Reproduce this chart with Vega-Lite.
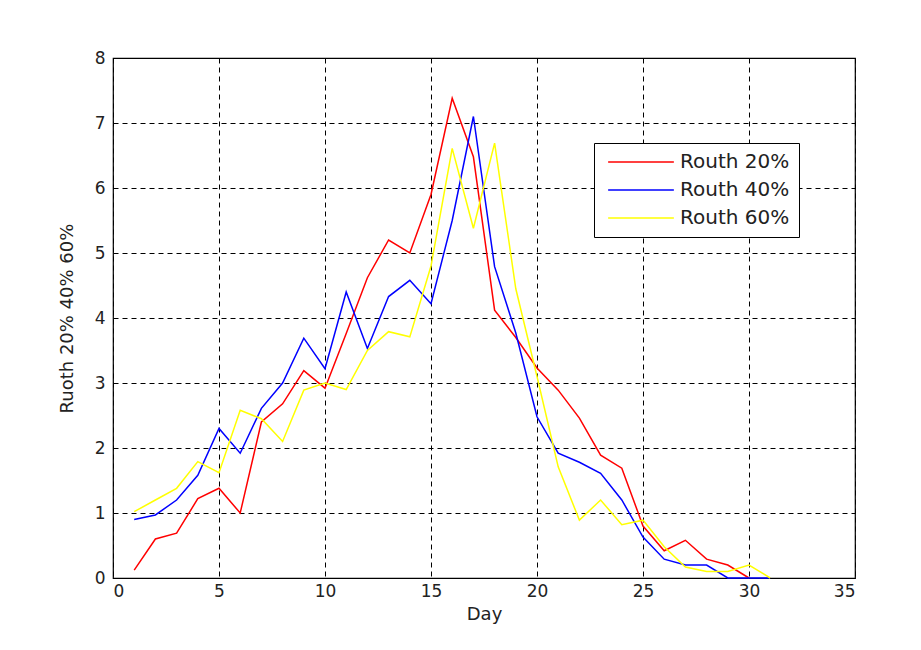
{
  "$schema": "https://vega.github.io/schema/vega-lite/v6.json",
  "autosize": "none",
  "width": 742,
  "height": 520,
  "padding": {"left": 113, "top": 58, "right": 66, "bottom": 72},
  "background": "white",
  "config": {
    "font": "DejaVu Sans",
    "view": {"stroke": "black", "strokeWidth": 1.2},
    "axis": {
      "domain": false,
      "ticks": false,
      "grid": true,
      "gridColor": "black",
      "gridOpacity": 1,
      "gridDash": [5, 4],
      "gridWidth": 1,
      "labelFont": "DejaVu Sans",
      "labelFontSize": 17,
      "labelColor": "#222",
      "titleFont": "DejaVu Sans",
      "titleFontSize": 18,
      "titleFontWeight": "normal",
      "titleColor": "#222"
    }
  },
  "data": {
    "values": [
      {"day": 1, "series": "Routh 20%", "value": 0.12},
      {"day": 2, "series": "Routh 20%", "value": 0.6},
      {"day": 3, "series": "Routh 20%", "value": 0.69},
      {"day": 4, "series": "Routh 20%", "value": 1.22},
      {"day": 5, "series": "Routh 20%", "value": 1.38},
      {"day": 6, "series": "Routh 20%", "value": 1.0},
      {"day": 7, "series": "Routh 20%", "value": 2.4},
      {"day": 8, "series": "Routh 20%", "value": 2.68},
      {"day": 9, "series": "Routh 20%", "value": 3.19},
      {"day": 10, "series": "Routh 20%", "value": 2.92},
      {"day": 11, "series": "Routh 20%", "value": 3.76},
      {"day": 12, "series": "Routh 20%", "value": 4.62},
      {"day": 13, "series": "Routh 20%", "value": 5.2},
      {"day": 14, "series": "Routh 20%", "value": 5.0},
      {"day": 15, "series": "Routh 20%", "value": 5.9},
      {"day": 16, "series": "Routh 20%", "value": 7.38},
      {"day": 17, "series": "Routh 20%", "value": 6.48},
      {"day": 18, "series": "Routh 20%", "value": 4.12},
      {"day": 19, "series": "Routh 20%", "value": 3.7},
      {"day": 20, "series": "Routh 20%", "value": 3.23},
      {"day": 21, "series": "Routh 20%", "value": 2.89},
      {"day": 22, "series": "Routh 20%", "value": 2.46},
      {"day": 23, "series": "Routh 20%", "value": 1.89},
      {"day": 24, "series": "Routh 20%", "value": 1.69},
      {"day": 25, "series": "Routh 20%", "value": 0.8},
      {"day": 26, "series": "Routh 20%", "value": 0.42},
      {"day": 27, "series": "Routh 20%", "value": 0.58},
      {"day": 28, "series": "Routh 20%", "value": 0.29},
      {"day": 29, "series": "Routh 20%", "value": 0.2},
      {"day": 30, "series": "Routh 20%", "value": 0.0},
      {"day": 1, "series": "Routh 40%", "value": 0.9},
      {"day": 2, "series": "Routh 40%", "value": 0.97},
      {"day": 3, "series": "Routh 40%", "value": 1.2},
      {"day": 4, "series": "Routh 40%", "value": 1.58},
      {"day": 5, "series": "Routh 40%", "value": 2.3},
      {"day": 6, "series": "Routh 40%", "value": 1.92},
      {"day": 7, "series": "Routh 40%", "value": 2.61},
      {"day": 8, "series": "Routh 40%", "value": 3.0},
      {"day": 9, "series": "Routh 40%", "value": 3.69},
      {"day": 10, "series": "Routh 40%", "value": 3.22},
      {"day": 11, "series": "Routh 40%", "value": 4.4},
      {"day": 12, "series": "Routh 40%", "value": 3.53},
      {"day": 13, "series": "Routh 40%", "value": 4.33},
      {"day": 14, "series": "Routh 40%", "value": 4.58},
      {"day": 15, "series": "Routh 40%", "value": 4.22},
      {"day": 16, "series": "Routh 40%", "value": 5.5},
      {"day": 17, "series": "Routh 40%", "value": 7.1},
      {"day": 18, "series": "Routh 40%", "value": 4.79},
      {"day": 19, "series": "Routh 40%", "value": 3.77},
      {"day": 20, "series": "Routh 40%", "value": 2.48},
      {"day": 21, "series": "Routh 40%", "value": 1.92},
      {"day": 22, "series": "Routh 40%", "value": 1.78},
      {"day": 23, "series": "Routh 40%", "value": 1.61},
      {"day": 24, "series": "Routh 40%", "value": 1.2},
      {"day": 25, "series": "Routh 40%", "value": 0.63},
      {"day": 26, "series": "Routh 40%", "value": 0.29},
      {"day": 27, "series": "Routh 40%", "value": 0.2},
      {"day": 28, "series": "Routh 40%", "value": 0.2},
      {"day": 29, "series": "Routh 40%", "value": 0.0},
      {"day": 30, "series": "Routh 40%", "value": 0.0},
      {"day": 31, "series": "Routh 40%", "value": 0.0},
      {"day": 1, "series": "Routh 60%", "value": 1.02},
      {"day": 2, "series": "Routh 60%", "value": 1.2},
      {"day": 3, "series": "Routh 60%", "value": 1.38},
      {"day": 4, "series": "Routh 60%", "value": 1.79},
      {"day": 5, "series": "Routh 60%", "value": 1.62},
      {"day": 6, "series": "Routh 60%", "value": 2.58},
      {"day": 7, "series": "Routh 60%", "value": 2.45},
      {"day": 8, "series": "Routh 60%", "value": 2.1},
      {"day": 9, "series": "Routh 60%", "value": 2.89},
      {"day": 10, "series": "Routh 60%", "value": 3.0},
      {"day": 11, "series": "Routh 60%", "value": 2.9},
      {"day": 12, "series": "Routh 60%", "value": 3.5},
      {"day": 13, "series": "Routh 60%", "value": 3.79},
      {"day": 14, "series": "Routh 60%", "value": 3.71},
      {"day": 15, "series": "Routh 60%", "value": 4.8},
      {"day": 16, "series": "Routh 60%", "value": 6.61},
      {"day": 17, "series": "Routh 60%", "value": 5.38},
      {"day": 18, "series": "Routh 60%", "value": 6.69},
      {"day": 19, "series": "Routh 60%", "value": 4.45},
      {"day": 20, "series": "Routh 60%", "value": 3.1},
      {"day": 21, "series": "Routh 60%", "value": 1.71},
      {"day": 22, "series": "Routh 60%", "value": 0.89},
      {"day": 23, "series": "Routh 60%", "value": 1.2},
      {"day": 24, "series": "Routh 60%", "value": 0.82},
      {"day": 25, "series": "Routh 60%", "value": 0.89},
      {"day": 26, "series": "Routh 60%", "value": 0.48},
      {"day": 27, "series": "Routh 60%", "value": 0.17},
      {"day": 28, "series": "Routh 60%", "value": 0.1},
      {"day": 29, "series": "Routh 60%", "value": 0.1},
      {"day": 30, "series": "Routh 60%", "value": 0.2},
      {"day": 31, "series": "Routh 60%", "value": 0.0}
    ]
  },
  "mark": {"type": "line", "strokeWidth": 1.5},
  "encoding": {
    "x": {
      "field": "day",
      "type": "quantitative",
      "scale": {"domain": [0, 35], "nice": false, "zero": false},
      "axis": {"values": [0, 5, 10, 15, 20, 25, 30, 35], "title": "Day", "labelPadding": 5, "titlePadding": 6}
    },
    "y": {
      "field": "value",
      "type": "quantitative",
      "scale": {"domain": [0, 8], "nice": false},
      "axis": {"values": [0, 1, 2, 3, 4, 5, 6, 7, 8], "title": "Ruoth 20% 40% 60%", "labelPadding": 8, "titlePadding": 18}
    },
    "color": {
      "field": "series",
      "type": "nominal",
      "scale": {"domain": ["Routh 20%", "Routh 40%", "Routh 60%"], "range": ["#ff0000", "#0000ff", "#ffff00"]},
      "legend": {
        "title": null,
        "orient": "none",
        "legendX": 481,
        "legendY": 85,
        "symbolType": "M-4,0H4",
        "symbolSize": 270,
        "symbolStrokeWidth": 1.5,
        "symbolOffset": 28,
        "labelFont": "DejaVu Sans",
        "labelFontSize": 20,
        "labelColor": "#222",
        "labelOffset": 29,
        "rowPadding": 8,
        "padding": 9,
        "strokeColor": "black",
        "fillColor": "white"
      }
    }
  }
}
